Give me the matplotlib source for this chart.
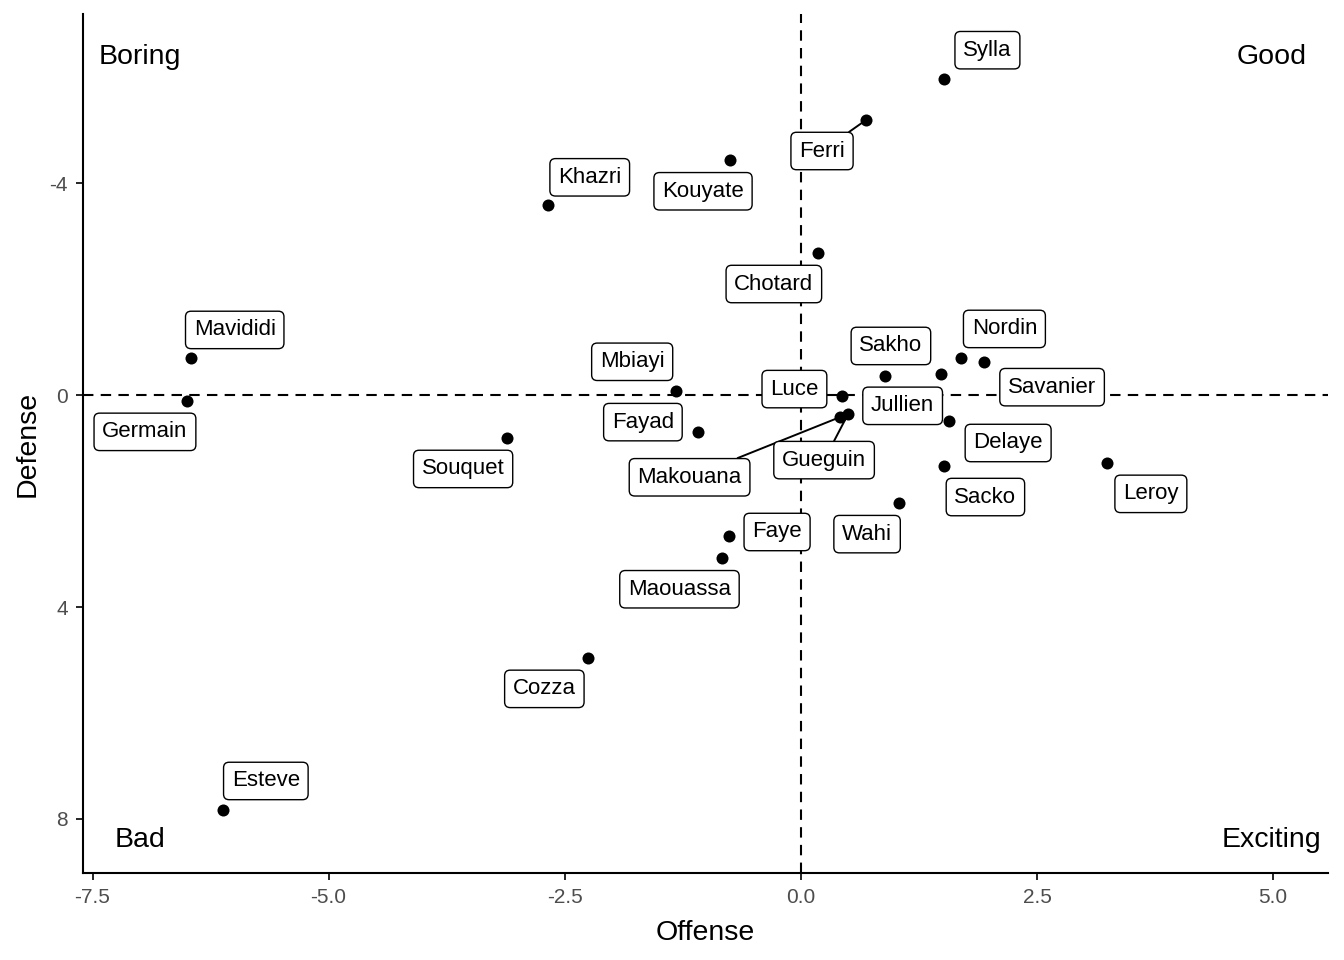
import matplotlib
matplotlib.use("Agg")
import matplotlib.pyplot as plt

plt.rcParams['font.family'] = ['Liberation Sans', 'DejaVu Sans']
plt.rcParams['axes.unicode_minus'] = False

# player scores (offense, defense)
players = ['Sylla', 'Ferri', 'Kouyate', 'Khazri', 'Chotard', 'Mavididi', 'Germain',
           'Mbiayi', 'Fayad', 'Souquet', 'Luce', 'Makouana', 'Gueguin', 'Sakho',
           'Jullien', 'Nordin', 'Savanier', 'Delaye', 'Sacko', 'Leroy', 'Wahi',
           'Faye', 'Maouassa', 'Cozza', 'Esteve']
offense = [1.52, 0.69, -0.75, -2.68, 0.18, -6.46, -6.50,
           -1.32, -1.09, -3.11, 0.44, 0.41, 0.50, 0.89,
           1.48, 1.70, 1.94, 1.57, 1.52, 3.24, 1.04,
           -0.76, -0.83, -2.25, -6.12]
defense = [-5.96, -5.19, -4.43, -3.58, -2.68, -0.70, 0.11,
           -0.08, 0.70, 0.81, 0.02, 0.42, 0.36, -0.36,
           -0.40, -0.70, -0.62, 0.49, 1.34, 1.28, 2.04,
           2.66, 3.08, 4.96, 7.83]

# label placement (pixel offsets from the point, like ggrepel output)
label_dx = [43, -44, -27, 42, -44, 44, -42, -44, -55, -44, -48, -150, -24, 6,
            -38, 43, 68, 59, 41, 44, -32, 48, -43, -44, 43]
label_dy = [29, -31, -31, 28, -31, 28, -31, 29, 10, -31, 7, -60, -46, 30,
            -32, 29, -25, -22, -31, -31, -31, 4, -31, -31, 29]
with_segment = ['Ferri', 'Makouana', 'Gueguin']

quadrants = ['Boring', 'Good', 'Bad', 'Exciting']
quad_x = [-7.0, 4.98, -7.0, 4.98]
quad_y = [-6.38, -6.38, 8.40, 8.40]

fig = plt.figure(figsize=(13.44, 9.6), dpi=100)
ax = fig.add_axes([0.0618, 0.0906, 0.9262, 0.8948])

ax.axvline(0, color='black', lw=1.5, ls=(0, (5, 3.5)), zorder=1)
ax.axhline(0, color='black', lw=1.5, ls=(0, (5, 3.5)), zorder=1)

ax.scatter(offense, defense, s=75, color='black', zorder=3, linewidths=0)

for name, x, y, dx, dy in zip(players, offense, defense, label_dx, label_dy):
    arrow = None
    if name in with_segment:
        arrow = dict(arrowstyle='-', color='black', lw=1.4, shrinkA=0, shrinkB=3)
    ax.annotate(name, xy=(x, y), xytext=(dx, dy), textcoords='offset pixels',
                ha='center', va='center', fontsize=16, zorder=4,
                bbox=dict(boxstyle='round,pad=0.37,rounding_size=0.25',
                          fc='white', ec='black', lw=1.0),
                arrowprops=arrow)

for q, x, y in zip(quadrants, quad_x, quad_y):
    ax.text(x, y, q, ha='center', va='center', fontsize=20.5, color='black')

ax.set_xlim(-7.60, 5.58)
ax.set_ylim(9.02, -7.19)
ax.set_xticks([-7.5, -5.0, -2.5, 0.0, 2.5, 5.0])
ax.set_xticklabels(['-7.5', '-5.0', '-2.5', '0.0', '2.5', '5.0'])
ax.set_yticks([-4, 0, 4, 8])

for side in ['top', 'right']:
    ax.spines[side].set_visible(False)
for side in ['left', 'bottom']:
    ax.spines[side].set_linewidth(1.5)
ax.tick_params(length=5, width=1.2, labelsize=15, labelcolor='#4D4D4D', pad=6)

ax.set_xlabel('Offense', fontsize=20.5, labelpad=9)
ax.set_ylabel('Defense', fontsize=20.5, labelpad=6)

fig.savefig('out.png', dpi=100)
